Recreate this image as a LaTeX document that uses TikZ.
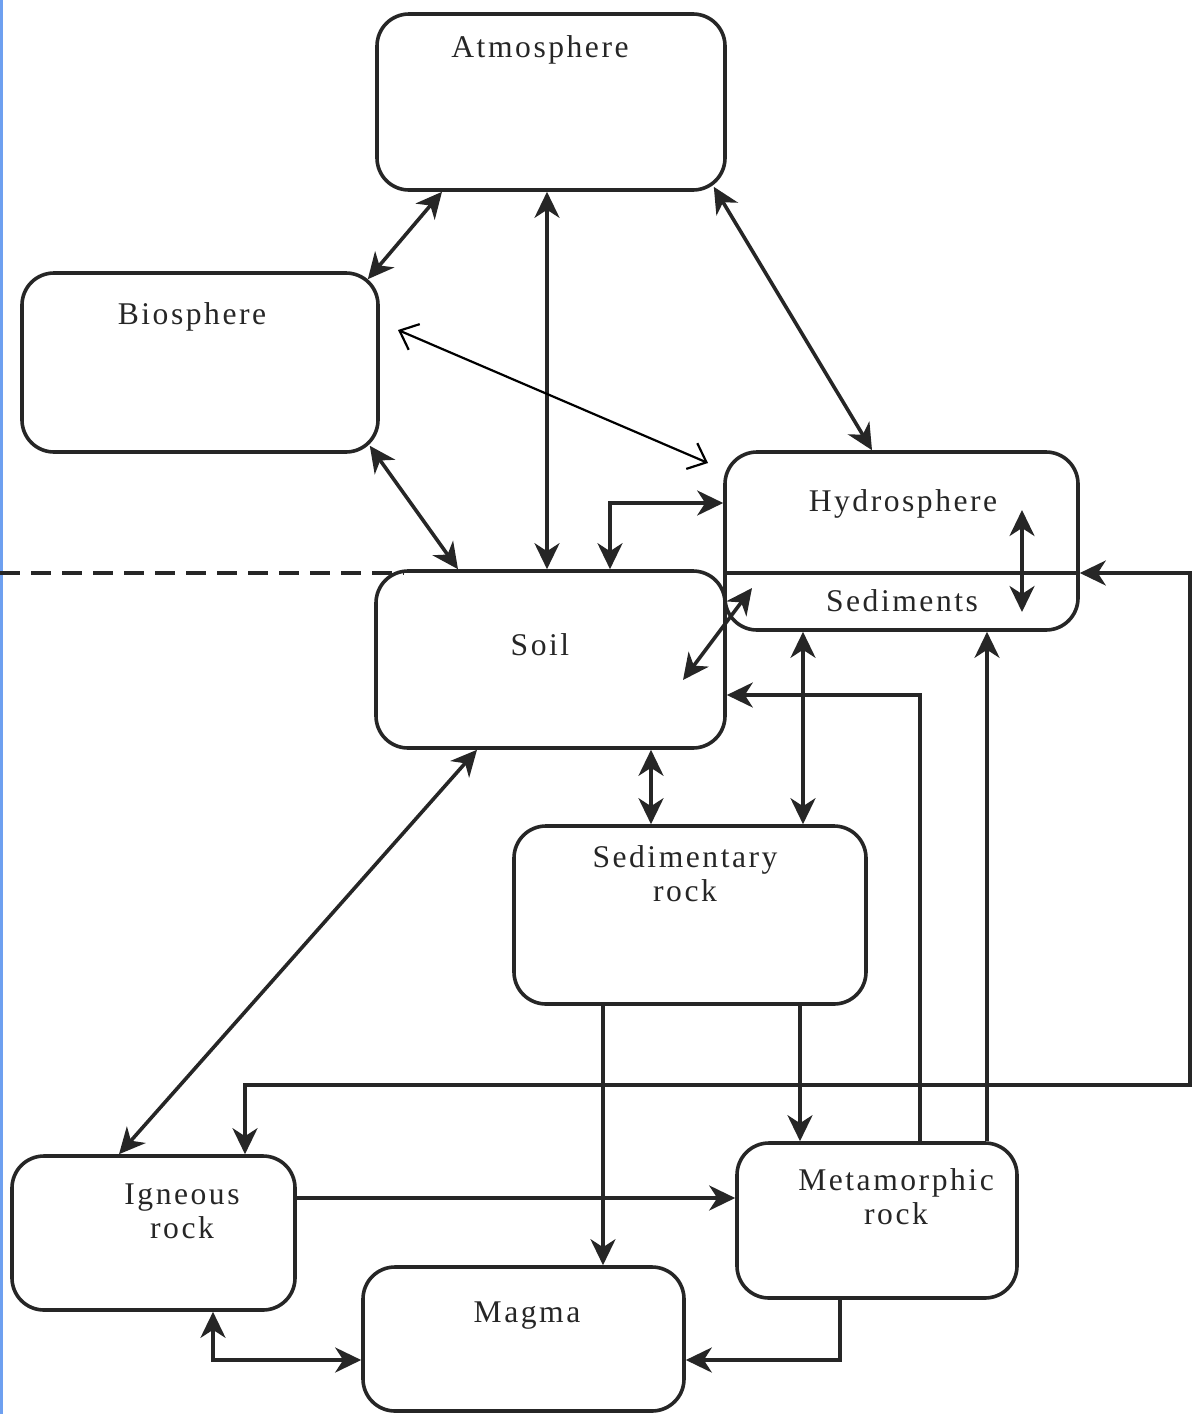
\documentclass[tikz,border=0pt]{standalone}
\usepackage{fontspec}
\setmainfont{Liberation Serif}[LetterSpace=8]
\usetikzlibrary{arrows.meta,fit}
\definecolor{ink}{HTML}{262626}
\definecolor{scanblue}{RGB}{110,160,240}
\begin{document}
\begin{tikzpicture}[x=0.5pt,y=-0.5pt,
  hd/.tip={Stealth[length=13pt,width=12.5pt,inset=4pt]},
  box/.style={draw=ink,line width=1.8pt,rounded corners=16pt,inner sep=0pt},
  lbl/.style={anchor=base,inner sep=0pt,font=\fontsize{15.8}{16}\selectfont,text=ink},
  con/.style={draw=ink,line width=1.8pt},
  dbl/.style={con,hd-hd},
  one/.style={con,-hd},
  thinarrow/.style={draw=black,line width=1.1pt,{Straight Barb[length=8pt,width=14pt]}-{Straight Barb[length=8pt,width=14pt]}},
  divide/.style={draw=ink,line width=2pt,dash pattern=on 10pt off 5.5pt}]
\useasboundingbox (0,0) rectangle (1192,1414);
\fill[scanblue] (0,0) rectangle (2.5,1414);

% boxes
\node[box,fit={(377,14)(725,190)}] (atm) {};
\node[box,fit={(22,273)(378,452)}] (bio) {};
\node[box,fit={(725,452)(1078,630)}] (hyd) {};
\node[box,fit={(376,571)(725,748)}] (soil) {};
\node[box,fit={(514,826)(866,1004)}] (sed) {};
\node[box,fit={(12,1156)(295,1310)}] (ign) {};
\node[box,fit={(737,1143)(1017,1298)}] (met) {};
\node[box,fit={(363,1267)(684,1411)}] (mag) {};
\draw[draw=ink,line width=1.8pt] (hyd.west |- 0,573) -- (hyd.east |- 0,573);

% labels
\node[lbl] (tatm) at (540,57) {Atmosphere};
\node[lbl] (tbio) at (192,324) {Biosphere};
\node[lbl] (thyd) at (903,511) {Hydrosphere};
\node[lbl] (tsedi) at (902,611) {Sediments};
\node[lbl] (tsoil) at (540,655) {Soil};
\node[lbl] (tsed1) at (685,867) {Sedimentary};
\node[lbl] (tsed2) at (685,901) {rock};
\node[lbl] (tign1) at (182,1204) {Igneous};
\node[lbl] (tign2) at (182,1238) {rock};
\node[lbl] (tmet1) at (896,1190) {Metamorphic};
\node[lbl] (tmet2) at (896,1224) {rock};
\node[lbl] (tmag) at (527,1322) {Magma};

% dashed boundary
\coordinate (dl) at (0,573);
\draw[divide] (dl) -- ([xshift=15]soil.north west |- dl);

% free ends
\coordinate (bh1) at (398,330);
\coordinate (bh2) at (708,463);
\coordinate (hs1) at (1022,510);
\coordinate (hs2) at (1022,612);
\coordinate (ss1) at (752,588);
\coordinate (ss2) at (683,680);
\coordinate (lp1) at (1190,573);
\coordinate (lp2) at (1190,1085);

% connectors
\draw[dbl] (atm.south -| 442,0) -- ([shift={(-12,8)}]bio.north east);
\draw[dbl] (atm.south -| 547,0) -- (soil.north -| 547,0);
\draw[dbl] ([shift={(-13,-5)}]atm.south east) -- (hyd.north -| 872,0);
\draw[thinarrow] (bh1) -- (bh2);
\draw[dbl] ([shift={(-10,-8)}]bio.south east) -- (soil.north -| 458,0);
\draw[dbl] (hyd.west |- 0,503) -| (soil.north -| 610,0);
\draw[dbl] (hs1) -- (hs2);
\draw[dbl] (ss1) -- (ss2);
\draw[dbl] (hyd.south -| 803,0) -- (sed.north -| 803,0);
\draw[dbl] (soil.south -| 651,0) -- (sed.north -| 651,0);
\draw[dbl] (soil.south -| 477,0) -- (ign.north -| 119,0);
\draw[one] (sed.south -| 603,0) -- (mag.north -| 603,0);
\draw[one] (sed.south -| 800,0) -- (met.north -| 800,0);
\draw[one] (ign.east |- 0,1198) -- (met.west |- 0,1198);
\draw[one] (met.north -| 920,0) |- (soil.east |- 0,695);
\draw[one] (met.north -| 987,0) -- (hyd.south -| 987,0);
\draw[dbl] (hyd.east |- lp1) -- (lp1) -- (lp2) -| (ign.north -| 245,0);
\draw[dbl] (ign.south -| 213,0) |- (mag.west |- 0,1360);
\draw[one] (met.south -| 840,0) |- (mag.east |- 0,1360);
\end{tikzpicture}
\end{document}
